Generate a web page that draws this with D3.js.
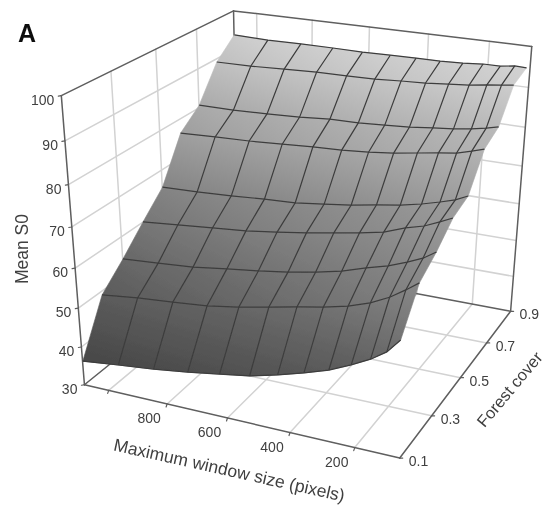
<!DOCTYPE html>
<html><head><meta charset="utf-8">
<script src="https://cdn.jsdelivr.net/npm/d3@7"></script>
<style>html,body{margin:0;background:#fff}svg{display:block}text{font-family:"Liberation Sans",Arial,sans-serif}</style>
</head><body><svg id="c" width="545" height="515"></svg>
<script>
// ---- data ----
const windowSizes=[1084,960,840,726,622,526,438,357,282,216,160,114,76];
const forestCovers=[0.1,0.2,0.3,0.4,0.5,0.6,0.7,0.8,0.9];
const s0Forest10=[36.3,37.4,38.4,39.6,40.9,42.1,43.9,45.8,47.8,50.2,52.5,55.0,58.4];
const s0Forest20=[49.1,50.2,51.0,51.8,53.1,54.6,56.0,57.2,58.6,60.4,62.6,65.0,67.2];
const s0Forest30=[54.3,55.0,55.7,56.9,57.9,59.0,60.3,61.7,63.6,65.0,66.7,68.3,70.3];
const s0Forest40=[60.1,61.0,61.8,62.6,63.7,64.8,66.0,67.1,68.3,70.2,71.4,73.0,74.4];
const s0Forest50=[65.6,65.9,66.4,67.0,67.4,68.3,69.2,70.3,71.2,72.3,73.5,74.6,76.0];
const s0Forest60=[76.4,76.8,77.1,77.6,78.1,78.4,78.9,79.6,80.5,81.3,81.9,82.9,83.8];
const s0Forest70=[80.7,80.7,81.0,81.4,82.0,82.1,82.5,82.9,83.5,84.0,84.6,85.3,86.0];
const s0Forest80=[89.2,89.3,89.7,90.0,90.1,90.2,90.6,90.9,91.4,91.8,92.4,92.8,93.2];
const s0Forest90=[93.8,93.5,93.6,93.6,93.5,93.6,93.7,93.7,93.9,94.3,94.3,94.8,94.7];
const meanS0=[s0Forest10,s0Forest20,s0Forest30,s0Forest40,s0Forest50,s0Forest60,s0Forest70,s0Forest80,s0Forest90];
const windowGrid=[1000,800,600,400,200];
const windowTicks=[800,600,400,200];
const forestTicks=[0.1,0.3,0.5,0.7,0.9];
const forestGrid=[0.3,0.5,0.7];
const meanTicks=[30,40,50,60,70,80,90,100];
const meanGrid=[40,50,60,70,80,90];

// ---- scales and camera ----
const tScale=d3.scaleLinear().domain([1085,65]).range([0,1]);
const fScale=d3.scaleLinear().domain([0.1,0.9]).range([0,1]);
const zScale=d3.scaleLinear().domain([30,100]).range([0,1]);
const shade=d3.scaleLinear().domain([36,50,60,70,80,90,95])
  .range(["#474747","#5e5e5e","#787878","#909090","#aaaaaa","#c4c4c4","#d2d2d2"]);
const cam=[[281.849,200.336,-29.193,84.436],[34.966,-74.271,-298.541,384.732],[-0.083696,0.193384,-0.099046,1]];
function project(w,f,z){
  const v=[tScale(w),fScale(f),zScale(z),1];
  const r=cam.map(row=>d3.sum(row,(c,i)=>c*v[i]));
  return [r[0]/r[2],r[1]/r[2]];
}
const W0=tScale.domain()[0],W1=tScale.domain()[1],F0=0.1,F1=0.9,Z0=30,Z1=100;
const line=d3.line();
const svg=d3.select("#c");
const defs=svg.append("defs");
const blur=defs.append("filter").attr("id","soft").attr("x","-5%").attr("y","-5%").attr("width","110%").attr("height","110%");
blur.append("feGaussianBlur").attr("stdDeviation",0.45);
const g=svg.append("g").attr("filter","url(#soft)");
const vertex=(r,c)=>project(windowSizes[c],forestCovers[r],meanS0[r][c]);

function seg(a,b,stroke,width){
  g.append("path").attr("d",line([a,b])).attr("fill","none").attr("stroke",stroke).attr("stroke-width",width).attr("stroke-linecap","round");
}
const gridC="#d2d2d2",frameC="#5e5e5e";
// walls and floor grid
meanGrid.forEach(z=>{seg(project(W0,F0,z),project(W0,F1,z),gridC,1.5);seg(project(W0,F1,z),project(W1,F1,z),gridC,1.5);});
forestGrid.forEach(f=>{seg(project(W0,f,Z0),project(W0,f,Z1),gridC,1.5);seg(project(W0,f,Z0),project(W1,f,Z0),gridC,1.5);});
windowGrid.forEach(w=>{seg(project(w,F1,Z0),project(w,F1,Z1),gridC,1.5);seg(project(w,F0,Z0),project(w,F1,Z0),gridC,1.5);});
// frame
[[[W0,F0,Z0],[W0,F0,Z1]],[[W0,F0,Z1],[W0,F1,Z1]],[[W0,F1,Z1],[W1,F1,Z1]],[[W1,F1,Z1],[W1,F1,Z0]],[[W0,F1,Z1],[W0,F1,Z0]],
 [[W0,F0,Z0],[W1,F0,Z0]],[[W1,F0,Z0],[W1,F1,Z0]],[[W0,F0,Z0],[W0,F1,Z0]],[[W0,F1,Z0],[W1,F1,Z0]]].forEach(([a,b])=>
  seg(project(...a),project(...b),frameC,1.5));
// ticks
meanTicks.forEach(z=>{const p=project(W0,F0,z);seg(p,[p[0]-3,p[1]+0.5],frameC,1.2);});
windowGrid.forEach(w=>{const p=project(w,F0,Z0);seg(p,[p[0]-1,p[1]+3],frameC,1.2);});
forestTicks.forEach(f=>{const p=project(W1,f,Z0);seg(p,[p[0]+3,p[1]],frameC,1.2);});
// surface cells, back to front, each shaded by its own height
const cells=[];
d3.range(forestCovers.length-2,-1,-1).forEach(r=>d3.range(windowSizes.length-1).forEach(c=>cells.push([r,c])));
cells.forEach(([r,c],i)=>{
  const a=vertex(r,c),b=vertex(r,c+1),d=vertex(r+1,c+1),e=vertex(r+1,c);
  const low=[(a[0]+b[0])/2,(a[1]+b[1])/2],high=[(d[0]+e[0])/2,(d[1]+e[1])/2];
  const gr=defs.append("linearGradient").attr("id","cell"+i).attr("gradientUnits","userSpaceOnUse")
    .attr("x1",high[0]).attr("y1",high[1]).attr("x2",low[0]).attr("y2",low[1]);
  gr.append("stop").attr("offset",0).attr("stop-color",shade((meanS0[r+1][c]+meanS0[r+1][c+1])/2));
  gr.append("stop").attr("offset",1).attr("stop-color",shade((meanS0[r][c]+meanS0[r][c+1])/2));
  g.append("path").attr("d",line([a,b,d,e])+"Z").attr("fill",`url(#cell${i})`)
    .attr("stroke",`url(#cell${i})`).attr("stroke-width",0.6).attr("stroke-linejoin","round");
});
// mesh lines: every forest-cover row, interior window columns
const meshC="#3c3c3c";
forestCovers.forEach((f,r)=>{
  g.append("path").attr("d",line(windowSizes.map((w,c)=>vertex(r,c)))).attr("fill","none").attr("stroke",meshC).attr("stroke-width",1.2);
});
d3.range(1,windowSizes.length-1).forEach(c=>{
  g.append("path").attr("d",line(forestCovers.map((f,r)=>vertex(r,c)))).attr("fill","none").attr("stroke",meshC).attr("stroke-width",1.2);
});

// texts
const ink="#3f3f3f";
function label(p,str,opts={}){
  const t=g.append("text").attr("x",p[0]).attr("y",p[1]).attr("fill",opts.fill||ink).attr("font-size",opts.size||14)
    .attr("text-anchor",opts.anchor||"middle").attr("font-weight",opts.weight||"normal").text(str);
  if(opts.rot!==undefined)t.attr("transform",`rotate(${opts.rot} ${p[0]} ${p[1]})`);
}
meanTicks.forEach(z=>{const p=project(W0,F0,z);label([p[0]-7,p[1]+9],z,{anchor:"end"});});
windowTicks.forEach(w=>{const p=project(w,F0,Z0);label([p[0]-18,p[1]+19],w);});
forestTicks.forEach(f=>{const p=project(W1,f,Z0);label([p[0]+9,p[1]+8],f.toFixed(1),{anchor:"start"});});
label([28,249],"Mean S0",{size:17.5,rot:-90});
label([228,476],"Maximum window size (pixels)",{size:17.5,rot:12.6});
label([514,393],"Forest cover",{size:16.5,rot:-50});
label([18,41.5],"A",{size:25,weight:"bold",anchor:"start",fill:"#111"});
</script></body></html>
